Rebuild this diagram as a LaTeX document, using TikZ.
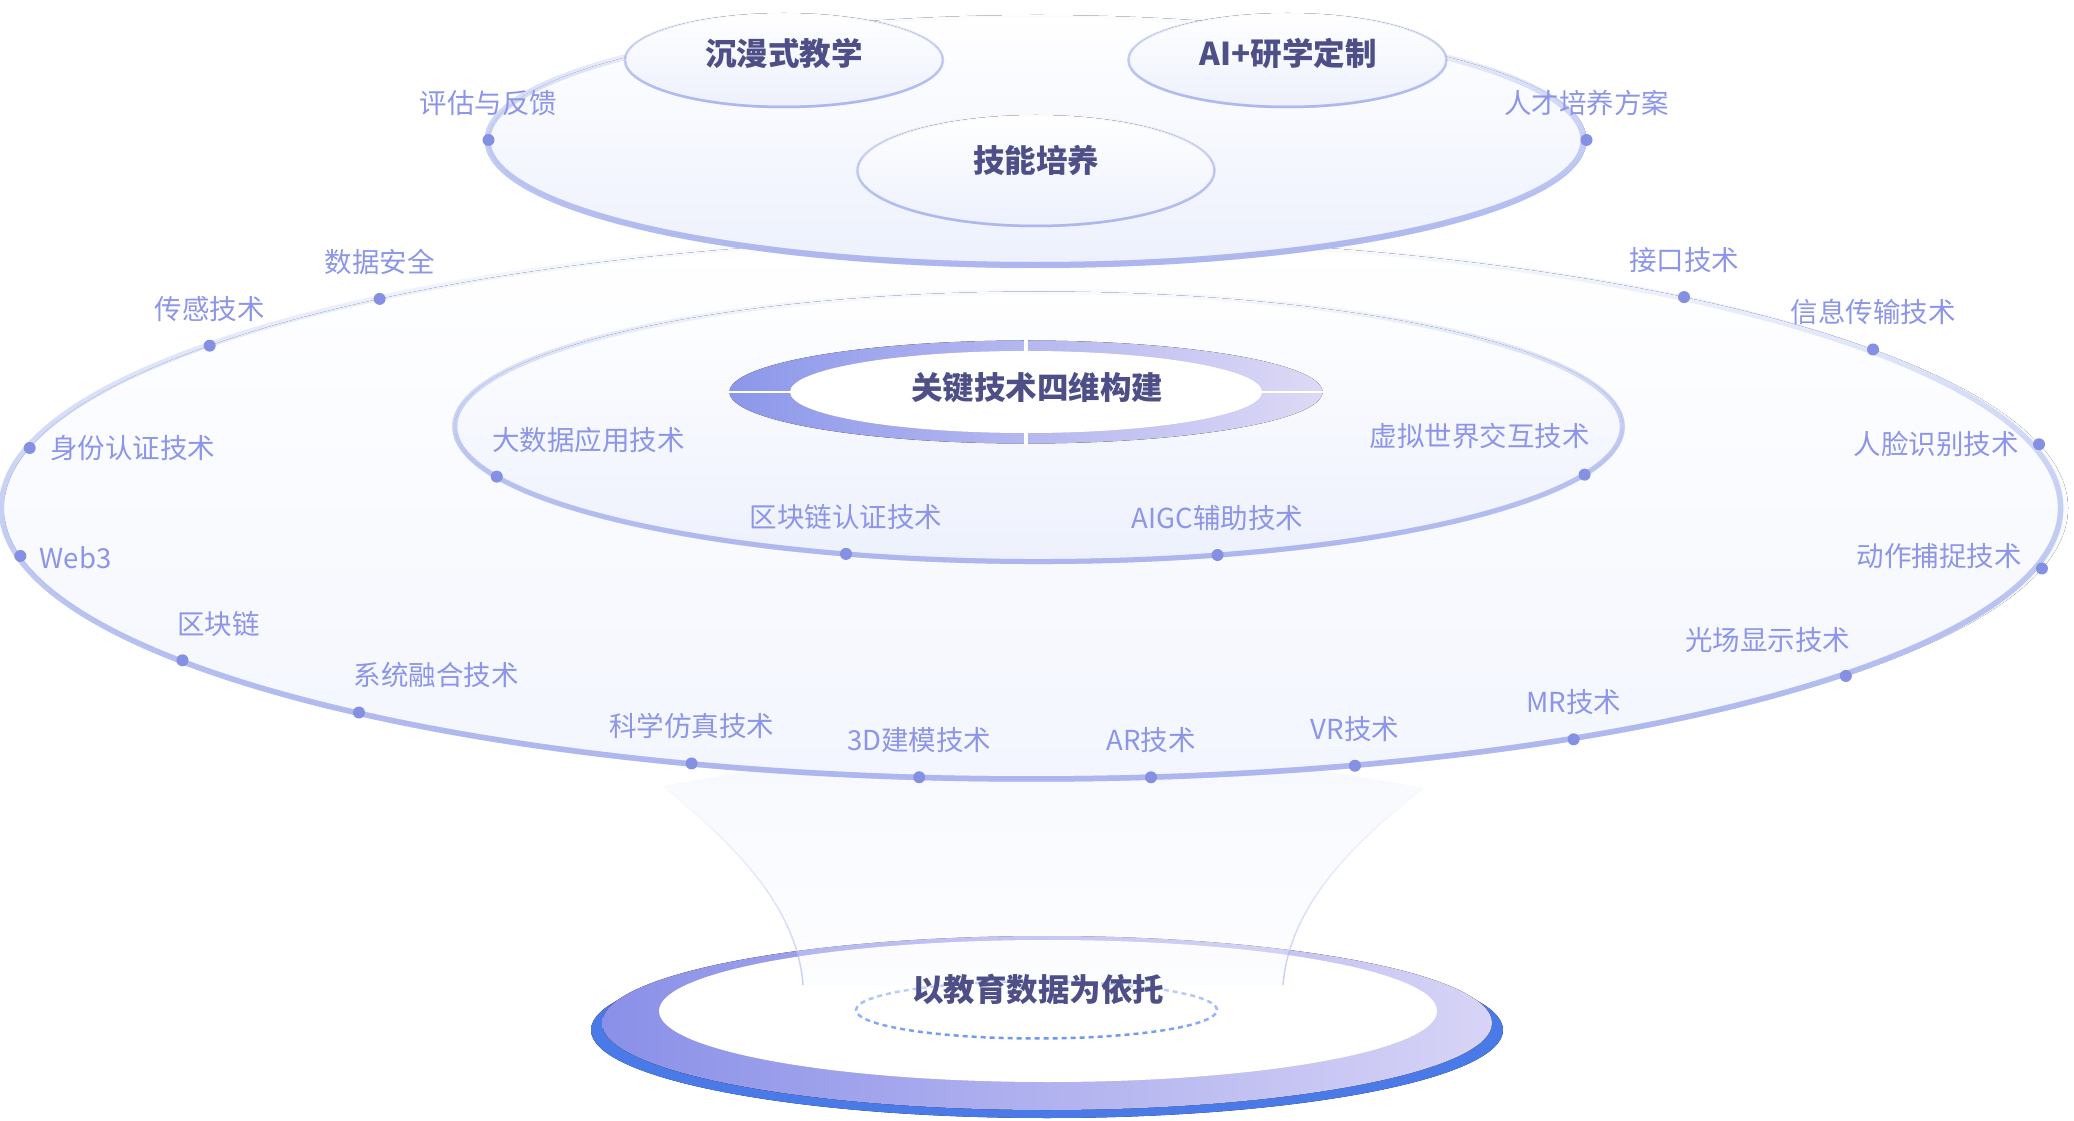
\documentclass[tikz,border=0pt]{standalone}
\usepackage{fontspec}
\setmainfont{Noto Sans CJK SC}
\usetikzlibrary{positioning,fadings}
\definecolor{titlec}{HTML}{4E4F87}
\definecolor{labelc}{HTML}{8C95E7}
\definecolor{dotc}{HTML}{8490E2}
\definecolor{rimlav}{HTML}{ADB6EE}
\definecolor{rimsky}{HTML}{C5D7F8}
\definecolor{panel}{HTML}{F3F6FE}
\definecolor{panelb}{HTML}{EDF1FD}
\definecolor{ringl}{HTML}{8C97EA}
\definecolor{ringm}{HTML}{B3D3F9}
\definecolor{ringr}{HTML}{DDD9F5}
\definecolor{basel}{HTML}{8A90E8}
\definecolor{basem}{HTML}{9DCAF6}
\definecolor{baser}{HTML}{D7D4F6}
\definecolor{edgeb}{HTML}{4A7AE8}
\definecolor{edgep}{HTML}{7280E0}
\definecolor{dashc}{HTML}{6C97EC}
\definecolor{funnelc}{HTML}{A3B1EE}
\definecolor{veilc}{HTML}{F5F7FE}
\tikzfading[name=fade sides, top color=transparent!94, middle color=transparent!15, bottom color=transparent!0]
\tikzfading[name=fade dome, top color=transparent!100, middle color=transparent!20, bottom color=transparent!0]
\tikzfading[name=fade bottom, top color=transparent!100, middle color=transparent!100, bottom color=transparent!0]
\tikzfading[name=fade line, top color=transparent!100, middle color=transparent!0, bottom color=transparent!40]
\tikzfading[name=fade veil, top color=transparent!15, bottom color=transparent!80]
\tikzfading[name=fade dash, top color=transparent!65, bottom color=transparent!0]
\begin{document}
\begin{tikzpicture}
	[	x=1pt,y=1pt,
	title/.style={font=\fontsize{31.5}{34}\selectfont\bfseries,text=titlec,inner sep=0pt},
	lbl/.style={font=\fontsize{27.5}{30}\selectfont,text=labelc,inner sep=0pt},
	dot/.style={circle,fill=dotc,inner sep=0pt,minimum size=12pt},
	sidestroke/.style={draw=rimsky,path fading=fade sides},
	domestroke/.style={draw=rimsky,path fading=fade dome},
	basestroke/.style={draw=rimlav,path fading=fade bottom},
	funnel/.style={draw=funnelc,line width=1.5pt,path fading=fade line}
	]
	\useasboundingbox (0,0) rectangle (2074,1120);
	% base disc
	\fill[left color=edgeb,middle color=edgep,right color=edgeb] (1047,90) ellipse [x radius=456,y radius=88];
	\fill[left color=basel,middle color=basem,right color=baser] (1047,97) ellipse [x radius=445,y radius=87];
	\fill[white] (1048,109) ellipse [x radius=389,y radius=71];
	% funnel
	\coordinate (fl-top) at (662,334);
	\coordinate (fl-bot) at (803,135);
	\coordinate (fr-top) at (1424,332);
	\coordinate (fr-bot) at (1283,135);
	\fill[veilc,path fading=fade veil] (fl-top) .. controls (732,278) and (796.6,215) .. (fl-bot)
		-- (fr-bot) .. controls (1289.4,215) and (1354,278) .. (fr-top) -- (1036,400) -- cycle;
	\draw[funnel] (fl-top) .. controls (732,278) and (796.6,215) .. (fl-bot);
	\draw[funnel] (fr-top) .. controls (1354,278) and (1289.4,215) .. (fr-bot);
	\draw[dashc,line width=2.5pt,dash pattern=on 5pt off 4pt,path fading=fade dash] (1036.5,110) ellipse [x radius=180.5,y radius=28.5];
	% middle layer
	\fill[top color=white,bottom color=panel] (1036,612) ellipse [x radius=1032,y radius=271];
	\draw[sidestroke,line width=5.5pt] (1036,612) ellipse [x radius=1032,y radius=271];
	\draw[basestroke,line width=5.5pt] (1036,612) ellipse [x radius=1032,y radius=271];
	\fill[top color=white,bottom color=panelb] (1039,693.5) ellipse [x radius=584,y radius=135];
	\draw[sidestroke,line width=5pt] (1039,693.5) ellipse [x radius=584,y radius=135];
	\draw[basestroke,line width=5pt] (1039,693.5) ellipse [x radius=584,y radius=135];
	% ring
	\fill[left color=ringl,middle color=ringm,right color=ringr] (1026,728) ellipse [x radius=296.5,y radius=51.5];
	\fill[white] (1026,728) ellipse [x radius=236,y radius=41];
	\draw[white,line width=4.5pt] (1026,675) -- (1026,781);
	\draw[white,line width=2.5pt] (728,728) -- (1324,728);
	% top layer
	\fill[top color=white,bottom color=panelb] (1037.5,980) ellipse [x radius=549,y radius=125];
	\draw[domestroke,line width=6pt] (1037.5,980) ellipse [x radius=549,y radius=125];
	\draw[basestroke,line width=6pt] (1037.5,980) ellipse [x radius=549,y radius=125];
	\fill[top color=white,bottom color=panelb] (784,1060) ellipse [x radius=159,y radius=47];
	\draw[domestroke,line width=2.5pt] (784,1060) ellipse [x radius=159,y radius=47];
	\draw[basestroke,line width=2.5pt] (784,1060) ellipse [x radius=159,y radius=47];
	\fill[top color=white,bottom color=panelb] (1287.5,1060) ellipse [x radius=159,y radius=47];
	\draw[domestroke,line width=2.5pt] (1287.5,1060) ellipse [x radius=159,y radius=47];
	\draw[basestroke,line width=2.5pt] (1287.5,1060) ellipse [x radius=159,y radius=47];
	\fill[top color=white,bottom color=panelb] (1036,949.5) ellipse [x radius=178.5,y radius=55.5];
	\draw[domestroke,line width=2.5pt] (1036,949.5) ellipse [x radius=178.5,y radius=55.5];
	\draw[basestroke,line width=2.5pt] (1036,949.5) ellipse [x radius=178.5,y radius=55.5];
	% titles
	\node[title] (t-cmjx) at (784,1067) {沉漫式教学};
	\node[title] (t-yxdz) at (1288,1067) {AI+研学定制};
	\node[title] (t-jnpy) at (1036,960) {技能培养};
	\node[title] (t-gjjs) at (1037,732.5) {关键技术四维构建};
	\node[title] (t-jysj) at (1038,131) {以教育数据为依托};
	% dots, top layer
	\node[dot] (d-pgfk) at (488.5,980) {};
	\node[dot] (d-rcpy) at (1586.5,980) {};
	\node[lbl,above=18pt of d-pgfk] (l-pgfk) {评估与反馈};
	\node[lbl,above=18pt of d-rcpy] (l-rcpy) {人才培养方案};
	% dots, inner ring
	\begin{scope}[shift={(1039,693.5)}]
	\node[dot] (d-dsj) at (201.8:584pt and 135pt) {};
	\node[dot] (d-qkrz) at (250.7:584pt and 135pt) {};
	\node[dot] (d-aigc) at (287.8:584pt and 135pt) {};
	\node[dot] (d-xnsj) at (339.1:584pt and 135pt) {};
	\end{scope}
\node[lbl,above right=19pt and -9pt of d-dsj] (l-dsj) {大数据应用技术};
\node[lbl,above=18pt of d-qkrz] (l-qkrz) {区块链认证技术};
\node[lbl,above=18pt of d-aigc] (l-aigc) {AIGC辅助技术};
\node[lbl,above left=21pt and -10pt of d-xnsj] (l-xnsj) {虚拟世界交互技术};
	% dots, outer ring
	\begin{scope}[shift={(1036,612)}]
	\node[dot] (d-sjaq) at (129.5:1032pt and 271pt) {};
	\node[dot] (d-cgjs) at (143.2:1032pt and 271pt) {};
	\node[dot] (d-sfrz) at (167.2:1032pt and 271pt) {};
	\node[dot] (d-web3) at (190.2:1032pt and 271pt) {};
	\node[dot] (d-qkl) at (214.2:1032pt and 271pt) {};
	\node[dot] (d-xtrh) at (229:1032pt and 271pt) {};
	\node[dot] (d-kxfz) at (250.5:1032pt and 271pt) {};
	\node[dot] (d-3djm) at (263.5:1032pt and 271pt) {};
	\node[dot] (d-ar) at (276.4:1032pt and 271pt) {};
	\node[dot] (d-vr) at (288:1032pt and 271pt) {};
	\node[dot] (d-mr) at (301.4:1032pt and 271pt) {};
	\node[dot] (d-gcxs) at (321.7:1032pt and 271pt) {};
	\node[dot] (d-dzbz) at (347.1:1032pt and 271pt) {};
	\node[dot] (d-rlsb) at (13.6:1032pt and 271pt) {};
	\node[dot] (d-xxcs) at (35.8:1032pt and 271pt) {};
	\node[dot] (d-jkjs) at (51.1:1032pt and 271pt) {};
	\end{scope}
\node[lbl,above=18pt of d-sjaq] (l-sjaq) {数据安全};
\node[lbl,above=18pt of d-cgjs] (l-cgjs) {传感技术};
\node[lbl,right=14pt of d-sfrz] (l-sfrz) {身份认证技术};
\node[lbl,right=13pt of d-web3,yshift=-2pt] (l-web3) {Web3};
\node[lbl,above right=19pt and -10pt of d-qkl] (l-qkl) {区块链};
\node[lbl,above right=20pt and -10pt of d-xtrh] (l-xtrh) {系统融合技术};
\node[lbl,above=18pt of d-kxfz] (l-kxfz) {科学仿真技术};
\node[lbl,above=18pt of d-3djm] (l-3djm) {3D建模技术};
\node[lbl,above=18pt of d-ar] (l-ar) {AR技术};
\node[lbl,above=18pt of d-vr] (l-vr) {VR技术};
\node[lbl,above=18pt of d-mr] (l-mr) {MR技术};
\node[lbl,above left=19pt and -9pt of d-gcxs] (l-gcxs) {光场显示技术};
\node[lbl,left=14pt of d-dzbz,yshift=12pt] (l-dzbz) {动作捕捉技术};
\node[lbl,left=14pt of d-rlsb] (l-rlsb) {人脸识别技术};
\node[lbl,above=18pt of d-xxcs] (l-xxcs) {信息传输技术};
\node[lbl,above=18pt of d-jkjs] (l-jkjs) {接口技术};
\end{tikzpicture}
\end{document}
